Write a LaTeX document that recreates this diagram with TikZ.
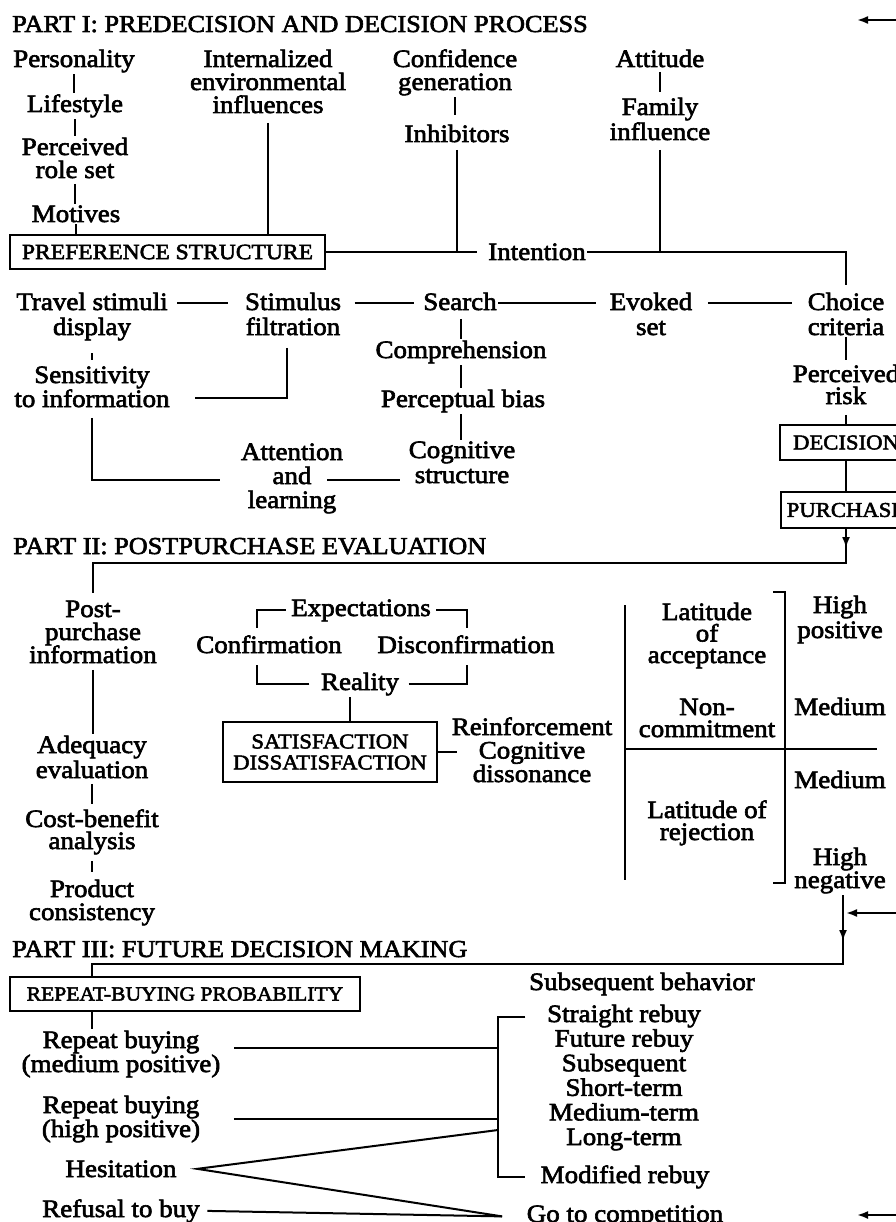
\documentclass[tikz,border=0pt]{standalone}
\usepackage{fontspec}
\setmainfont{Liberation Serif}[FakeStretch=1.08,FakeBold=2.5]
\usetikzlibrary{arrows.meta,calc}
\newcommand\bodyfnt{\fontsize{25}{23}\selectfont}
\newcommand\headfnt{\fontsize{24.3}{26}\selectfont}
\newcommand\boxfnt{\fontsize{21}{21}\selectfont}
% multi-line nodes are placed by the baseline of their last line
\tikzset{
  txt/.style={font=\bodyfnt, align=center, inner sep=1.5pt, anchor=base},
  lead/.style={font=\fontsize{25}{#1}\selectfont},
  head/.style={font=\headfnt, anchor=base west, inner sep=0pt},
  boxed/.style={draw, line width=2pt, font=\boxfnt, align=center, inner sep=0pt},
  ln/.style={line width=2pt},
  tip/.style={-{Latex[length=11pt,width=8pt]}},
}
\begin{document}
\begin{tikzpicture}[x=1pt,y=-1pt]
\path[use as bounding box, fill=white] (0,0) rectangle (895,1222);

% ---------------- Part I ----------------
\node[head] (h1) at (12,32) {PART I: PREDECISION AND DECISION PROCESS};
\node[txt] (pers)  at (74,67)  {Personality};
\node[txt] (life)  at (75,112) {Lifestyle};
\node[txt] (role)  at (75,178) {Perceived\\role set};
\node[txt] (motiv) at (76,222) {Motives};
\node[boxed, minimum width=315pt, minimum height=34pt, font=\fontsize{21.8}{22}\selectfont]
  (pref) at (167.5,252) {PREFERENCE\ STRUCTURE};
\node[txt] (envi)  at (268,113) {Internalized\\environmental\\influences};
\node[txt] (conf)  at (455,90) {Confidence\\generation};
\node[txt] (inhib) at (457,142) {Inhibitors};
\node[txt] (att)   at (660,67) {Attitude};
\node[txt, lead=25] (fam) at (660,140) {Family\\influence};
\node[txt] (intent) at (537,260) {Intention};

\node[txt, lead=25] (trav)   at (92,335)  {Travel stimuli\\display};
\node[txt, lead=25] (stim)   at (293,335) {Stimulus\\filtration};
\node[txt] (search) at (460,310) {Search};
\node[txt, lead=25] (evoked) at (651,335) {Evoked\\set};
\node[txt, lead=25] (choice) at (846,335) {Choice\\criteria};
\node[txt] (compr)  at (461,358) {Comprehension};
\node[txt] (percb)  at (463,407) {Perceptual bias};
\node[txt, lead=25] (cogn) at (462,483) {Cognitive\\structure};
\node[txt, lead=22] (sens) at (92,407) {Sensitivity\\to information};
\node[txt, lead=24] (attn) at (292,508) {Attention\\and\\learning};
\node[txt, lead=22] (risk) at (846,404) {Perceived\\risk};
\node[boxed, minimum width=132pt, minimum height=35pt] (dec) at (846,442.5) {DECISION};
\node[boxed, minimum width=130pt, minimum height=36pt] (pur) at (846,510) {PURCHASE};

\draw[ln] (pers.south) -- (pers.south |- life.north);
\draw[ln] (life.south) -- (life.south |- role.north);
\draw[ln, shorten <=4pt] (role.south) -- (role.south |- motiv.north);
\draw[ln] (motiv.south) -- (motiv.south |- pref.north);
\draw[ln, shorten <=8pt] (envi.south) -- (envi.south |- pref.north);
\draw[ln, shorten >=8pt] (conf.south) -- (conf.south |- inhib.north);
\draw[ln, shorten <=6pt] (inhib.south) -- (inhib.south |- pref.east);
\draw[ln, shorten <=3pt, shorten >=4pt] (att.south) -- (att.south |- fam.north);
\draw[ln, shorten <=8pt] (fam.south) -- (fam.south |- pref.east);
\draw[ln, shorten >=10pt] (pref.east) -- (pref.east -| intent.west);
\draw[ln, shorten >=6pt] (intent.east |- pref.east) -| (choice.north);

\coordinate (r2) at (0,303);
\draw[ln] ([xshift=8pt]trav.north east |- r2) -- ([xshift=-15pt]stim.north west |- r2);
\draw[ln] ([xshift=12pt]stim.north east |- r2) -- ([xshift=-8pt]search.west |- r2);
\draw[ln] (search.east |- r2) -- ([xshift=-12pt]evoked.north west |- r2);
\draw[ln] ([xshift=14pt]evoked.north east |- r2) -- ([xshift=-14pt]choice.north west |- r2);

\draw[ln, shorten <=7pt] (search.south -| compr.south) -- (compr.north);
\draw[ln] (compr.south) -- (compr.south |- percb.north);
\draw[ln] (percb.south -| compr.south) -- (compr.south |- cogn.north);

\draw[ln, shorten <=11pt, shorten >=5pt] (trav.south) -- (trav.south |- sens.north);
\coordinate (sJ) at (195,398);
\draw[ln] ([xshift=-6pt,yshift=-11pt]stim.south) |- (sJ);
\coordinate (aJ) at (220,480);
\draw[ln] ([yshift=-9pt]sens.south) |- (aJ);
\draw[ln] ([xshift=35pt]attn.base |- aJ) -- ([xshift=-7pt]cogn.west |- aJ);

\draw[ln, shorten >=3pt] (choice.south) -- (choice.south |- risk.north);
\draw[ln, shorten <=9pt] (risk.south) -- (risk.south |- dec.north);
\draw[ln] (dec.south) -- (dec.south |- pur.north);

\coordinate (tA) at (857,20);
\draw[ln, tip] ([xshift=45pt]tA) -- (tA);

% ---------------- Part II ----------------
\node[head] (h2) at (13,554) {PART II: POSTPURCHASE EVALUATION};
\node[txt] (post) at (93,663) {Post-\\purchase\\information};
\node[txt, lead=25] (adeq) at (92,778) {Adequacy\\evaluation};
\node[txt, lead=22] (cost) at (92,849) {Cost-benefit\\analysis};
\node[txt] (prod) at (92,920) {Product\\consistency};

\coordinate (p2R) at (845,563);
\draw[ln, shorten >=6pt] (pur.south) -- (pur.south |- p2R) -| (post.north);
\draw[ln, tip] (pur.south) -- ++(0,19);

\draw[ln, shorten <=5pt] (post.south) -- (post.south |- adeq.north);
\draw[ln, shorten <=4pt, shorten >=4pt] (adeq.south) -- (adeq.south |- cost.north);
\draw[ln, shorten <=5pt, shorten >=6pt] (cost.south) -- (cost.south |- prod.north);

\node[txt] (expect)  at (361,616) {Expectations};
\node[txt] (confirm) at (269,653) {Confirmation};
\node[txt] (disconf) at (466,653) {Disconfirmation};
\node[txt] (reality) at (360,690) {Reality};
\node[boxed, minimum width=214pt, minimum height=60pt] (satis) at (330,752)
  {SATISFACTION\\DISSATISFACTION};
\node[txt, lead=23.5] (reinf) at (532,782) {Reinforcement\\Cognitive\\dissonance};

\coordinate (eL) at (257,628);
\coordinate (eR) at (467,628);
\coordinate (rL) at (257,665);
\coordinate (rR) at (467,665);
\draw[ln] ([xshift=-4pt]expect.west) -| (eL);
\draw[ln] ([xshift=4pt]expect.east) -| (eR);
\draw[ln] ([xshift=-10pt]reality.west) -| (rL);
\draw[ln] ([xshift=8pt]reality.east) -| (rR);
\draw[ln] ([xshift=-10pt]reality.south) -- ([xshift=-10pt]reality.south |- satis.north);
\draw[ln] (satis.east) -- ([xshift=7pt]satis.east -| reinf.west);

\node[txt, lead=21.5] (latacc) at (707,663) {Latitude\\of\\acceptance};
\node[txt, lead=22] (noncom) at (707,737) {Non-\\commitment};
\node[txt, lead=22] (latrej) at (707,840) {Latitude of\\rejection};
\node[txt, lead=25] (hipos) at (840,638) {High\\positive};
\node[txt] (med1) at (840,715) {Medium};
\node[txt] (med2) at (840,788) {Medium};
\node[txt, lead=23] (hineg) at (840,888) {High\\negative};

% latitude scale
\draw[ln] (625,605) -- (625,880);
\draw[ln] (773,592) -- (785,592) -- (785,883) -- (773,883);
\draw[ln] (625,749) -- (877,749);

% ---------------- Part III ----------------
\node[head] (h3) at (12,957) {PART III: FUTURE DECISION MAKING};
\node[boxed, minimum width=350pt, minimum height=34pt, font=\fontsize{20}{20}\selectfont]
  (rep) at (185,994) {REPEAT-BUYING PROBABILITY};
\node[txt, lead=24] (rbm) at (121,1072) {Repeat buying\\(medium positive)};
\node[txt, lead=24] (rbh) at (121,1137) {Repeat buying\\(high positive)};
\node[txt] (hes)  at (121,1177) {Hesitation};
\node[txt] (refu) at (121,1217) {Refusal to buy};
\node[txt] (subs) at (642,990) {Subsequent behavior};
\node[txt, lead=24.6] (types) at (624,1145)
  {Straight rebuy\\Future rebuy\\Subsequent\\Short-term\\Medium-term\\Long-term};
\node[txt] (modif) at (625,1183) {Modified rebuy};
\node[txt] (goto)  at (625,1222) {Go to competition};

\coordinate (p3R) at (843,964);
\coordinate (p3L) at (92,964);
\coordinate (mA) at (843,941);
\coordinate (mB) at (846,913);
\draw[ln] (hineg.south -| p3R) -- (p3R) -- (p3L) -- (p3L |- rep.north);
\draw[ln, tip] (hineg.south -| p3R) -- (mA);
\draw[ln, tip] ([xshift=50pt]mB) -- (mB);
\draw[ln] (p3L |- rep.south) -- (p3L |- rbm.north);

\coordinate (bT) at (498,1017);
\coordinate (bB) at (498,1177);
\draw[ln] ([xshift=-20pt]types.west |- bT) -- (bT) -- (bB) -- ([xshift=-20pt]types.west |- bB);
\draw[ln] ([xshift=12pt,yshift=24pt]rbm.base east) -- ([yshift=24pt]rbm.base east -| bT);
\draw[ln] ([xshift=32pt]rbh.east) -- (rbh.east -| bT);
\coordinate (hU) at (498,1130);
\coordinate (gC) at ([xshift=-23pt]goto.west);
\draw[ln] (hU) -- ([xshift=19pt]hes.east) -- (gC);
\draw[ln] ([xshift=6pt]refu.east) -- (gC);

\coordinate (bA) at (857,1215);
\draw[ln, tip] ([xshift=45pt]bA) -- (bA);
\end{tikzpicture}
\end{document}
